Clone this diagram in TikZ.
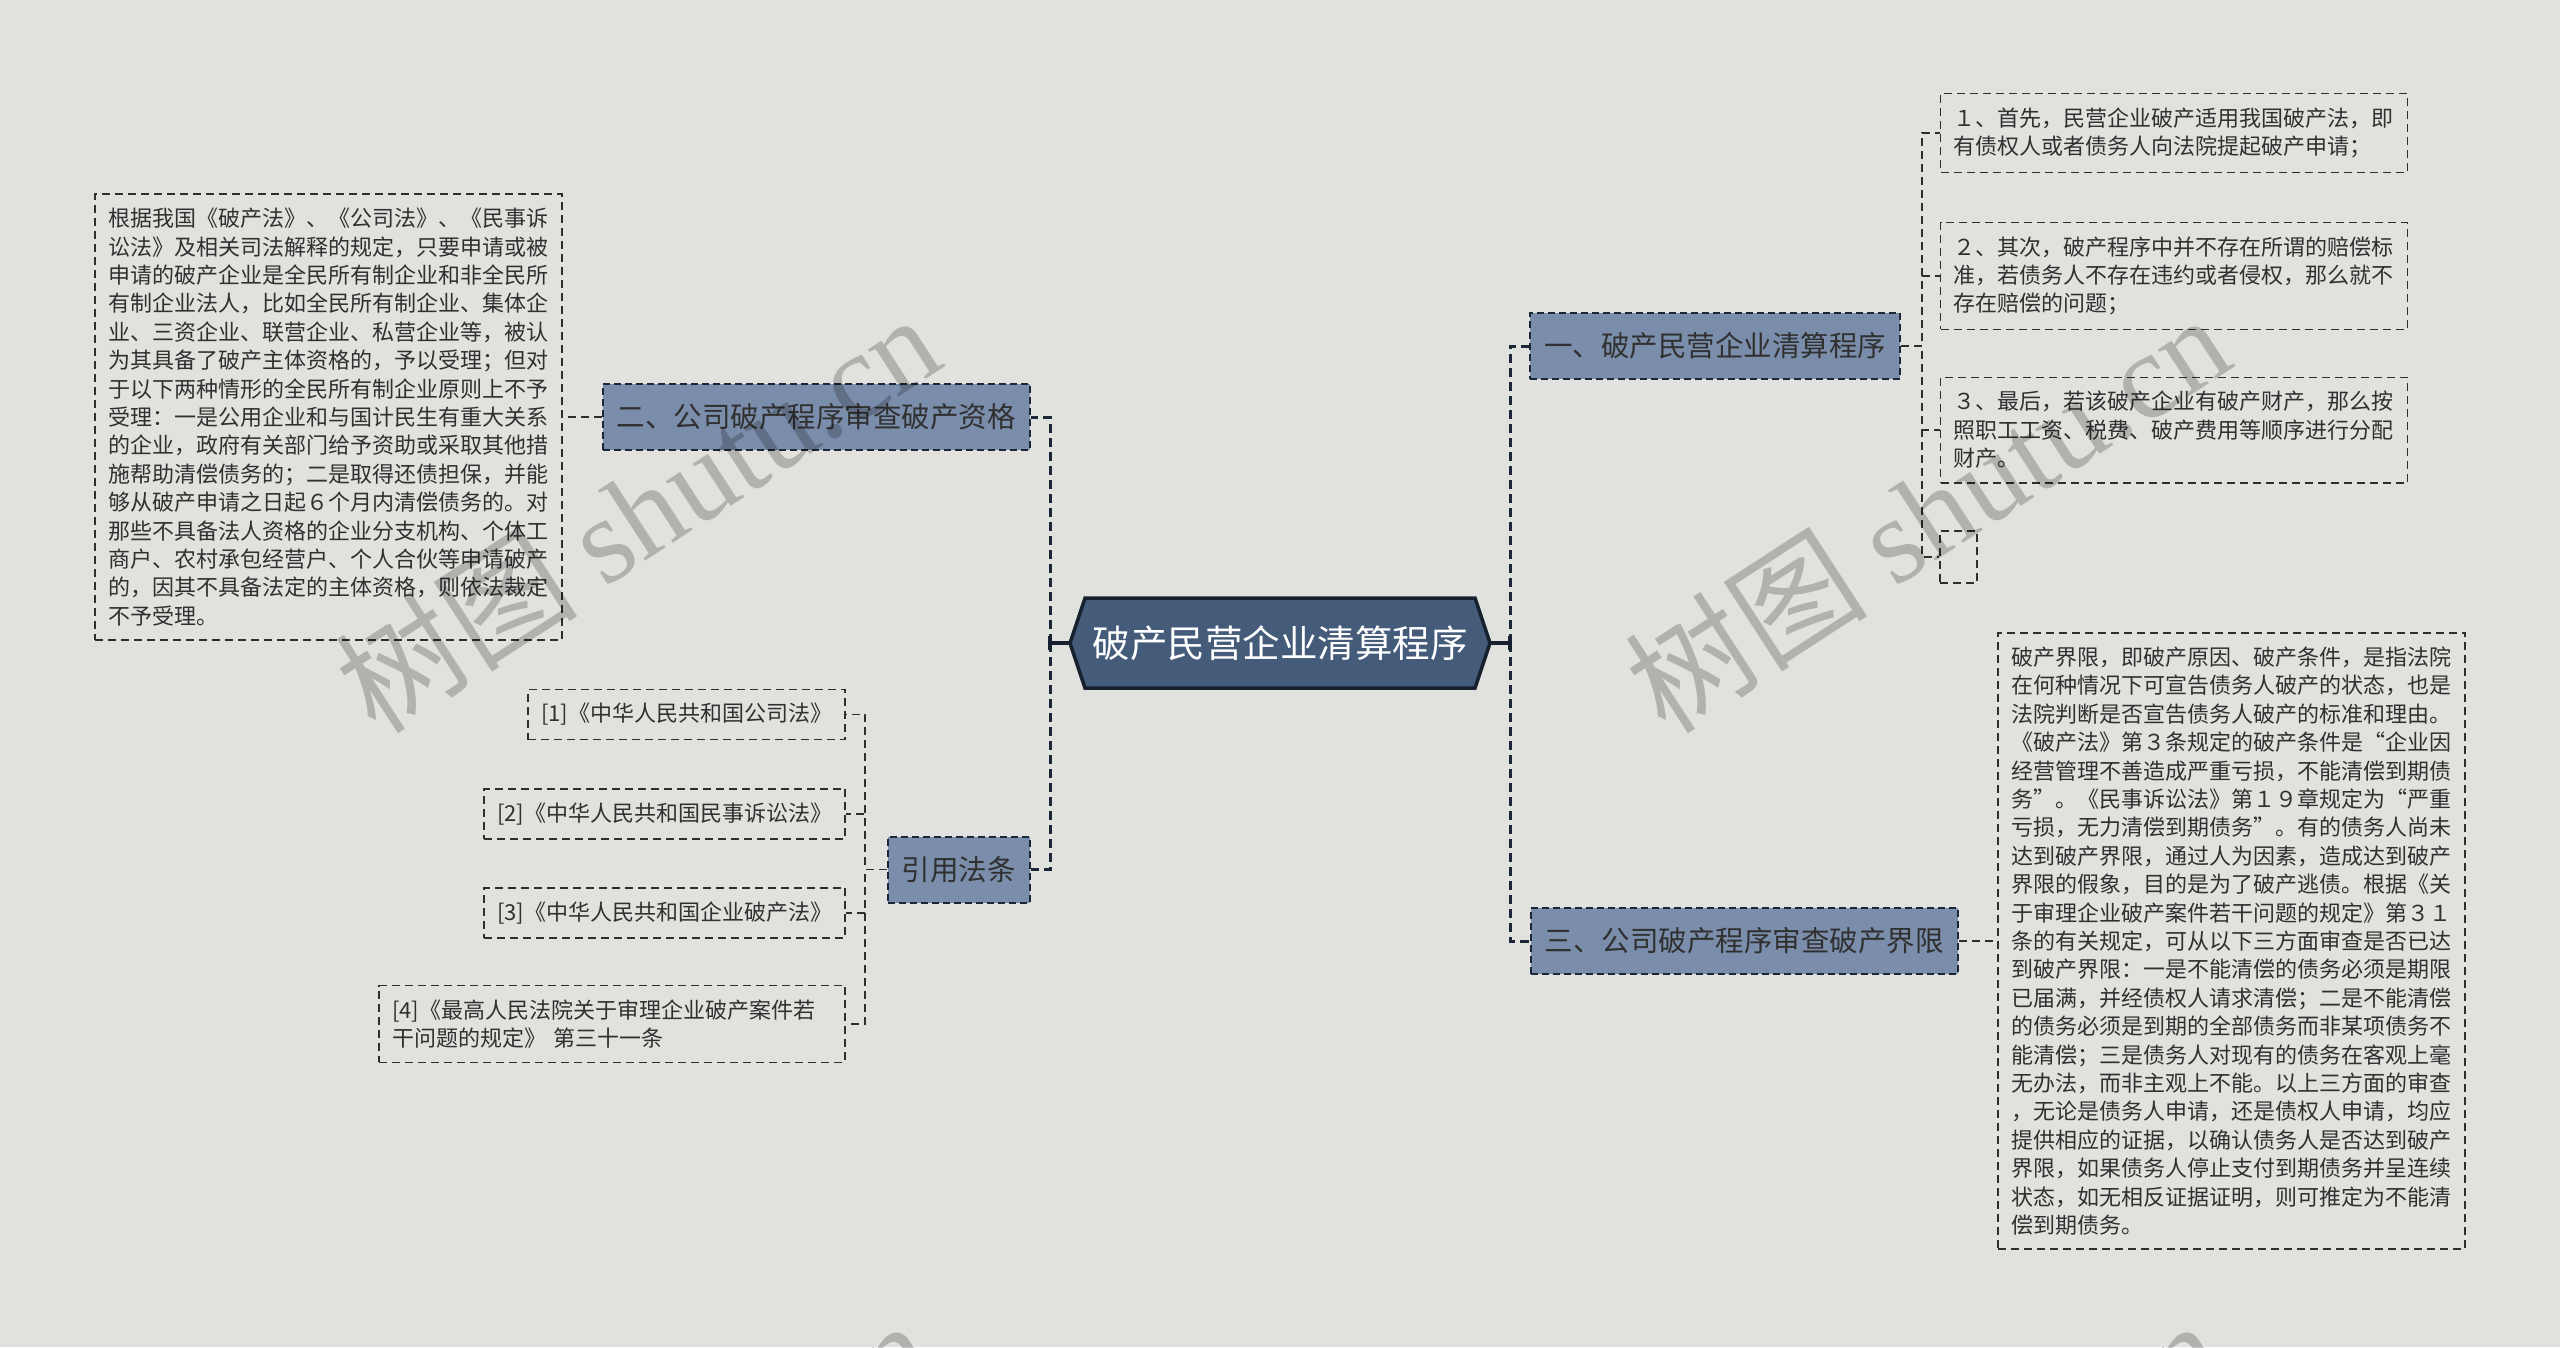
\documentclass[tikz,border=0pt]{standalone}
\usepackage{fontspec}
\setmainfont{Noto Sans CJK SC}
\newfontfamily\wmlatin{Liberation Serif}
\usetikzlibrary{calc}
\definecolor{bgc}{HTML}{E1E2DE}
\definecolor{rootfill}{HTML}{455B7A}
\definecolor{rootline}{HTML}{16202E}
\definecolor{lvlfill}{HTML}{7A8DAA}
\definecolor{lvlline}{HTML}{1B2636}
\definecolor{txt}{HTML}{303030}
\definecolor{leafline}{HTML}{2E2E2E}
\begin{document}
\begin{tikzpicture}[x=1pt,y=-1pt,
  rootshape/.style={fill=rootfill, draw=rootline, line width=3.5pt, line join=miter},
  roottext/.style={minimum width=420pt, minimum height=90pt, inner sep=0pt, text=white, font=\fontsize{37.5}{45}\selectfont},
  lvlbox/.style={rectangle, fill=lvlfill, draw=lvlline, line width=2pt, dash pattern=on 7pt off 4pt, inner xsep=14pt, inner ysep=0pt, minimum height=66pt, text=txt, font=\fontsize{28.5}{34}\selectfont},
  leafbox/.style={rectangle, draw=leafline, line width=1.6pt, dash pattern=on 8pt off 5pt, inner xsep=13pt, inner ysep=14pt, text=txt, align=left, font=\fontsize{22}{28.4}\selectfont},
  busline/.style={draw=lvlline, line width=3pt, dash pattern=on 9pt off 5pt},
  rootlink/.style={draw=rootline, line width=3.5pt},
  leafconn/.style={draw=leafline, line width=1.6pt, dash pattern=on 8pt off 5pt},
  wmark/.style={text=black, text opacity=0.21, rotate=33, inner sep=0pt, font=\fontsize{122}{130}\selectfont}
]
\useasboundingbox (0,0) rectangle (2560,1347);
\fill[bgc] (0,0) rectangle (2560,1347);

% root
\path[rootshape] (1070,643) -- (1085,598) -- (1475,598) -- (1490,643) -- (1475,688) -- (1085,688) -- cycle;
\node[roottext] (root) at (1280,643) {破产民营企业清算程序};

% level 1
\node[lvlbox] (n2) at (816,417) {二、公司破产程序审查破产资格};
\node[lvlbox] (yin) at (958.5,869.5) {引用法条};
\node[lvlbox] (n1) at (1715,346) {一、破产民营企业清算程序};
\node[lvlbox] (n3) at (1744,941) {三、公司破产程序审查破产界限};

% leaves
\node[leafbox, text width=441pt] (lbox) at (328.5,417) {根据我国《破产法》、《公司法》、《民事诉\\讼法》及相关司法解释的规定，只要申请或被\\申请的破产企业是全民所有制企业和非全民所\\有制企业法人，比如全民所有制企业、集体企\\业、三资企业、联营企业、私营企业等，被认\\为其具备了破产主体资格的，予以受理；但对\\于以下两种情形的全民所有制企业原则上不予\\受理：一是公用企业和与国计民生有重大关系\\的企业，政府有关部门给予资助或采取其他措\\施帮助清偿债务的；二是取得还债担保，并能\\够从破产申请之日起６个月内清偿债务的。对\\那些不具备法人资格的企业分支机构、个体工\\商户、农村承包经营户、个人合伙等申请破产\\的，因其不具备法定的主体资格，则依法裁定\\不予受理。};

\node[leafbox, text width=441pt] (bbox) at (2231.5,941) {破产界限，即破产原因、破产条件，是指法院\\在何种情况下可宣告债务人破产的状态，也是\\法院判断是否宣告债务人破产的标准和理由。\\《破产法》第３条规定的破产条件是“企业因\\经营管理不善造成严重亏损，不能清偿到期债\\务”。《民事诉讼法》第１９章规定为“严重\\亏损，无力清偿到期债务”。有的债务人尚未\\达到破产界限，通过人为因素，造成达到破产\\界限的假象，目的是为了破产逃债。根据《关\\于审理企业破产案件若干问题的规定》第３１\\条的有关规定，可从以下三方面审查是否已达\\到破产界限：一是不能清偿的债务必须是期限\\已届满，并经债权人请求清偿；二是不能清偿\\的债务必须是到期的全部债务而非某项债务不\\能清偿；三是债务人对现有的债务在客观上毫\\无办法，而非主观上不能。以上三方面的审查\\，无论是债务人申请，还是债权人申请，均应\\提供相应的证据，以确认债务人是否达到破产\\界限，如果债务人停止支付到期债务并呈连续\\状态，如无相反证据证明，则可推定为不能清\\偿到期债务。};

\node[leafbox, text width=441pt] (b1) at (2174,133) {１、首先，民营企业破产适用我国破产法，即\\有债权人或者债务人向法院提起破产申请；};
\node[leafbox, text width=441pt] (b2) at (2174,276) {２、其次，破产程序中并不存在所谓的赔偿标\\准，若债务人不存在违约或者侵权，那么就不\\存在赔偿的问题；};
\node[leafbox, text width=441pt] (b3) at (2174,430) {３、最后，若该破产企业有破产财产，那么按\\照职工工资、税费、破产费用等顺序进行分配\\财产。};
\node[leafbox, minimum width=37pt, minimum height=52pt, inner sep=0pt] (b4) at (1958.5,557) {};

\node[leafbox, anchor=east] (c1) at (846,714.5) {[1]《中华人民共和国公司法》};
\node[leafbox, anchor=east] (c2) at (846,814) {[2]《中华人民共和国民事诉讼法》};
\node[leafbox, anchor=east] (c3) at (846,913) {[3]《中华人民共和国企业破产法》};
\node[leafbox, anchor=east, text width=440pt] (c4) at (846,1024) {[4]《最高人民法院关于审理企业破产案件若\\干问题的规定》 第三十一条};

% junction points
\coordinate (lbus) at (1050,643);
\coordinate (rbus) at (1510,643);
\coordinate (cbus) at (865,869.5);
\coordinate (r1bus) at (1922,346);

% root connectors
\draw[busline] (lbus) |- (n2.east);
\draw[busline] (lbus) |- (yin.east);
\draw[busline] (rbus) |- (n1.west);
\draw[busline] (rbus) |- (n3.west);
\draw[rootlink] (root.west) -- (lbus);
\draw[rootlink] (root.east) -- (rbus);
\draw[rootlink] ($(lbus)+(0,-7)$) -- ($(lbus)+(0,7)$);
\draw[rootlink] ($(rbus)+(0,-7)$) -- ($(rbus)+(0,7)$);

% leaf connectors
\draw[leafconn] (n2.west) -- (lbox.east);
\draw[leafconn] (n3.east) -- (bbox.west);
\draw[leafconn] (n1.east) -- (r1bus) |- (b1.west);
\draw[leafconn] (n1.east) -- (r1bus) |- (b2.west);
\draw[leafconn] (n1.east) -- (r1bus) |- (b3.west);
\draw[leafconn] (n1.east) -- (r1bus) |- (b4.west);
\draw[leafconn] (yin.west) -- (cbus) |- (c1.east);
\draw[leafconn] (yin.west) -- (cbus) |- (c2.east);
\draw[leafconn] (yin.west) -- (cbus) |- (c3.east);
\draw[leafconn] (yin.west) -- (cbus) |- (c4.east);

% watermarks
\begin{scope}
\clip (0,0) rectangle (2560,1347);
\node[wmark] (wm1) at (637,512) {树图 {\wmlatin shutu.cn}};
\node[wmark] (wm2) at (1927,512) {树图 {\wmlatin shutu.cn}};
\node[wmark] (wm3) at (629,1518) {树图 {\wmlatin shutu.cn}};
\node[wmark] (wm4) at (1919,1518) {树图 {\wmlatin shutu.cn}};
\end{scope}
\end{tikzpicture}
\end{document}
